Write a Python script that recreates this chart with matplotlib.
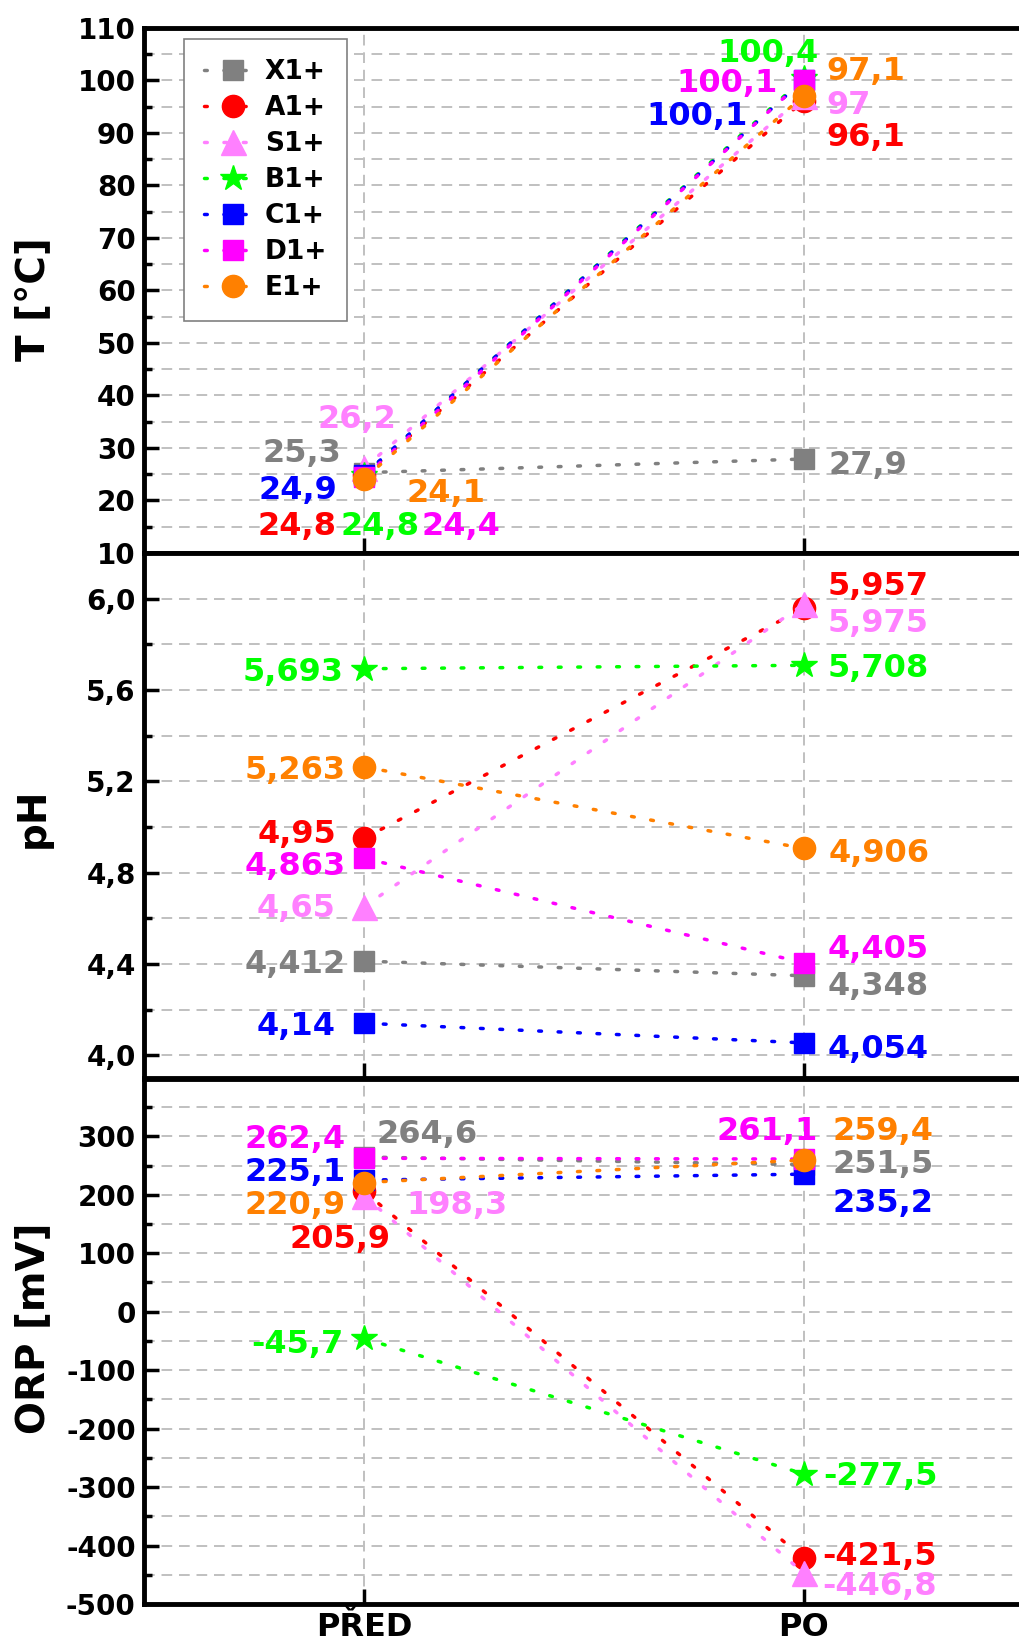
import numpy as np
import matplotlib.pyplot as plt
from matplotlib.ticker import MultipleLocator, FuncFormatter

stages = ['PŘED', 'PO']
samples = ['X1+', 'A1+', 'S1+', 'B1+', 'C1+', 'D1+', 'E1+']
colors = ['#808080', '#ff0000', '#ff80ff', '#00ff00', '#0000ff', '#ff00ff', '#ff8000']
markers = ['s', 'o', '^', '*', 's', 's', 'o']
msizes = [15, 16, 18, 19, 15, 15, 16]

temp_pred = [25.3, 24.8, 26.2, 24.8, 24.9, 24.4, 24.1]
temp_po = [27.9, 96.1, 97.0, 100.4, 100.1, 100.1, 97.1]
ph_pred = [4.412, 4.95, 4.65, 5.693, 4.14, 4.863, 5.263]
ph_po = [4.348, 5.957, 5.975, 5.708, 4.054, 4.405, 4.906]
orp_pred = [264.6, 205.9, 198.3, -45.7, 225.1, 262.4, 220.9]
orp_po = [251.5, -421.5, -446.8, -277.5, 235.2, 261.1, 259.4]

# label offsets in pixels (dx, dy to visual centre, ha), order as samples
off_t = [[(-23, 22, 'right'), (-27, -48, 'right'), (-7, 51, 'center'), (16, -48, 'center'),
          (-27, -13, 'right'), (97, -46, 'center'), (43, -12, 'left')],
         [(25, -3, 'left'), (23, -34, 'left'), (23, -6, 'left'), (-36, 28, 'center'),
          (-56, -34, 'right'), (-26, -1, 'right'), (23, 27, 'left')]]
off_ph = [[(-18, 0, 'right'), (-28, 7, 'right'), (-28, 1, 'right'), (-20, -1, 'right'),
           (-28, 0, 'right'), (-18, -5, 'right'), (-18, -1, 'right')],
          [(24, -8, 'left'), (24, 25, 'left'), (24, -16, 'left'), (24, 0, 'left'),
           (24, -4, 'left'), (24, 16, 'left'), (25, -2, 'left')]]
off_orp = [[(13, 25, 'left'), (-24, -45, 'center'), (42, -7, 'left'), (-20, -3, 'right'),
            (-18, 11, 'right'), (-18, 22, 'right'), (-18, -20, 'right')],
           [(29, 3, 'left'), (19, 5, 'left'), (19, -11, 'left'), (20, 0, 'left'),
            (29, -26, 'left'), (-36, 31, 'center'), (29, 32, 'left')]]

plt.rcParams['font.family'] = 'DejaVu Sans'
plt.rcParams['font.weight'] = 'bold'

fig = plt.figure(figsize=(10.19, 16.45), dpi=100)
W, H = 1019, 1645
left, right = 144 / W, 1023.5 / W
tops = [28, 553, 1079]
ph = 525

panels = [
    (temp_pred, temp_po, off_t, 'T [°C]', (10, 110), 10, 5, lambda v, p: '%d' % v),
    (ph_pred, ph_po, off_ph, 'pH', (3.9, 6.2), 0.4, 0.2, lambda v, p: ('%.1f' % v).replace('.', ',')),
    (orp_pred, orp_po, off_orp, 'ORP [mV]', (-500, 398), 100, 50, lambda v, p: '%d' % v),
]
label_y = [0.483, 0.495, 0.525]

x = np.arange(1, 3)
axes = []
for k, (pred, po, offs, ylab, ylim, maj, mnr, fmt) in enumerate(panels):
    ax = fig.add_axes([left, 1 - (tops[k] + ph) / H, right - left, ph / H])
    axes.append(ax)
    for i in range(len(samples)):
        vals = [pred[i], po[i]]
        ax.plot(x, vals, color=colors[i], marker=markers[i], ms=msizes[i],
                mec=colors[i], lw=2.5, ls=(0, (0.8, 4.8)), dash_capstyle='round',
                label=samples[i], zorder=3 + i)
        for j in range(2):
            dx, dy, ha = offs[j][i]
            txt = ('%g' % vals[j]).replace('.', ',')
            ax.annotate(txt, (x[j], vals[j]), xytext=(dx, dy - 11.5), textcoords='offset pixels',
                        ha=ha, va='baseline', color=colors[i], fontsize=23,
                        fontweight='bold', zorder=20)
    ax.set_xlim(0.5, 2.5)
    ax.set_ylim(*ylim)
    ax.yaxis.set_major_locator(MultipleLocator(maj))
    ax.yaxis.set_minor_locator(MultipleLocator(mnr))
    ax.yaxis.set_major_formatter(FuncFormatter(fmt))
    ax.set_xticks(x)
    ax.grid(which='both', axis='y', color='#c0c0c0', ls=(0, (5.5, 3.5)), lw=1.4)
    ax.grid(which='major', axis='x', color='#c0c0c0', ls=(0, (5.5, 3.5)), lw=1.4)
    ax.set_axisbelow(True)
    ax.tick_params(axis='y', which='major', direction='in', length=11, width=2.5,
                   labelsize=20, pad=6)
    ax.tick_params(axis='y', which='minor', direction='in', length=6, width=2.5)
    ax.tick_params(axis='x', which='major', direction='in', length=11, width=2.5,
                   labelsize=23, pad=6)
    for s in ['top', 'bottom', 'left']:
        ax.spines[s].set_linewidth(3.5)
    ax.spines['right'].set_visible(False)
    ax.text(-0.126, label_y[k], ylab, transform=ax.transAxes, rotation=90,
            ha='center', va='center', fontsize=28, fontweight='bold')
    if k < 2:
        ax.set_xticklabels([])
    else:
        ax.set_xticklabels(stages)

leg = axes[0].legend(loc='upper left', bbox_to_anchor=(0.0457, 0.979), borderaxespad=0,
                     numpoints=1, handlelength=2.2, labelspacing=0.38,
                     fontsize=19, fancybox=False, edgecolor='#808080', framealpha=1,
                     borderpad=0.75, handletextpad=0.1)
leg.get_frame().set_linewidth(1.2)
leg.set_zorder(30)

fig.savefig('out.png', dpi=100)
